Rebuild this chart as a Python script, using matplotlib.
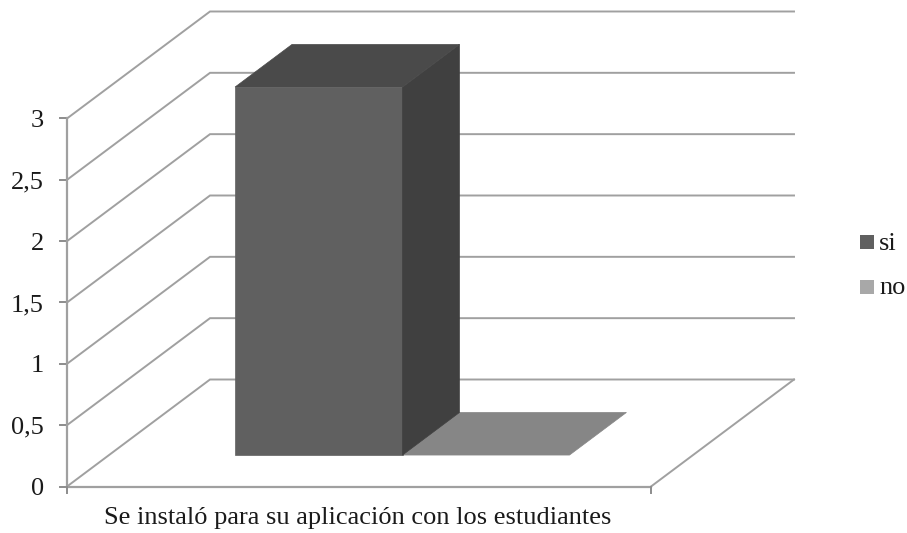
import matplotlib
matplotlib.use('Agg')
import matplotlib.pyplot as plt
from matplotlib.patches import Polygon, Rectangle

categories = ['Se instaló para su aplicación con los estudiantes']
series_names = ['si', 'no']
series_values = [3, 0]
y_ticks = [0, 0.5, 1, 1.5, 2, 2.5, 3]
y_labels = ['0', '0,5', '1', '1,5', '2', '2,5', '3']

plt.rcParams['font.family'] = ['Liberation Serif', 'DejaVu Serif']

fig = plt.figure(figsize=(9.07, 5.33), dpi=100)
ax = fig.add_axes([0, 0, 1, 1])
ax.set_xlim(0, 907)
ax.set_ylim(533, 0)
ax.axis('off')

# oblique projection of the excel style 3d box
X0, X1 = 67, 651
Y0, UNIT = 486.5, 122.67
DX, DY = 143, 107


def pt(x, v, d):
    # x 0..1 across, v in value units, d 0..1 into the depth
    return (X0 + (X1 - X0) * x + DX * d, Y0 - UNIT * v - DY * d)


grid = '#a0a0a0'
for v, label in zip(y_ticks, y_labels):
    a = pt(0, v, 0)
    b = pt(0, v, 1)
    c = pt(1, v, 1)
    ax.plot([a[0], b[0], c[0]], [a[1], b[1], c[1]], color=grid, lw=1.4,
            solid_joinstyle='miter')
    # tick mark
    ax.plot([a[0] - 7, a[0]], [a[1], a[1]], color='#8c8c8c', lw=1.4)
    ax.text(44, a[1] + 2.5, label, fontsize=19, ha='right', va='center',
            color='#1a1a1a')

# floor right side
ax.plot(*zip(pt(1, 0, 0), pt(1, 0, 1)), color=grid, lw=1.4)

# axes lines
ax.plot(*zip(pt(0, 0, 0), pt(1, 0, 0)), color='#a0a0a0', lw=1.6)
ax.plot(*zip(pt(0, 0, 0), pt(0, max(y_ticks), 0)), color='#a0a0a0', lw=1.6)
ax.plot([X0, X0], [Y0, Y0 + 6], color='#8c8c8c', lw=1.4)
ax.plot([X1, X1], [Y0, Y0 + 6], color='#8c8c8c', lw=1.4)

# bars
bar_x = [0.2158, 0.5017]
bar_w = 0.2868
d0, d1 = 0.294, 0.692
front = ['#606060', '#a0a0a0']
side = ['#404040', '#6e6e6e']
top = ['#4a4a4a', '#868686']
for val, x, fc, sc, tc in zip(series_values, bar_x, front, side, top):
    p = [pt(x, 0, d0), pt(x + bar_w, 0, d0), pt(x + bar_w, val, d0), pt(x, val, d0)]
    q = [pt(x + bar_w, 0, d0), pt(x + bar_w, 0, d1), pt(x + bar_w, val, d1), pt(x + bar_w, val, d0)]
    r = [pt(x, val, d0), pt(x + bar_w, val, d0), pt(x + bar_w, val, d1), pt(x, val, d1)]
    if val > 0:
        ax.add_patch(Polygon(p, closed=True, fc=fc, ec=fc, lw=0.5, zorder=3))
        ax.add_patch(Polygon(q, closed=True, fc=sc, ec=sc, lw=0.5, zorder=3))
    ax.add_patch(Polygon(r, closed=True, fc=tc, ec=tc, lw=0.5, zorder=3 if val > 0 else 2.5))

ax.text(358, 518, categories[0], fontsize=19, ha='center', va='center', color='#1a1a1a')

# legend
legend_y = [242, 287]
legend_c = ['#606060', '#a8a8a8']
for name, y, c in zip(series_names, legend_y, legend_c):
    ax.add_patch(Rectangle((860, y - 7), 14, 14, fc=c, ec='none'))
    ax.text(879, y + 1.5, name, fontsize=19, ha='left', va='center', color='#1a1a1a')

fig.savefig('out.png', dpi=100)
